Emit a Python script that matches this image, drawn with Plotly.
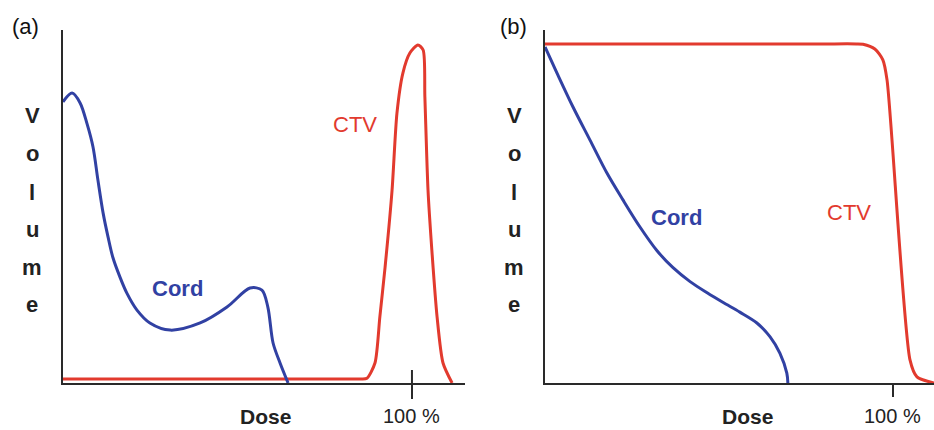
import plotly.graph_objects as go

# ---- data -------------------------------------------------------------
# (a) differential dose-volume histogram
cord_a_dose = [0, 2.6, 4.9, 6.9, 8.6, 10.0, 11.5, 12.9, 14.3, 16.3, 18.3, 21.2, 24.9, 30.7,
               39.3, 47.0, 53.6, 57.0, 58.7, 60.2, 62.2, 64.5]
cord_a_vol = [82.9, 85.5, 82.6, 76.4, 69.6, 59.9, 50.1, 43.1, 37.0, 31.3, 26.5, 21.5, 17.7, 15.6,
              17.7, 22.4, 28.0, 27.4, 22.4, 11.8, 5.9, 0]

ctv_a_dose = [0, 20, 40, 60, 80, 85.5, 87.1, 89.4, 90.8, 92.3, 94.3, 95.7, 97.4, 99.4, 101.7,
              103.2, 103.7, 104.6, 105.7, 107.2, 108.9, 111.5]
ctv_a_vol = [1.2, 1.2, 1.2, 1.2, 1.2, 1.2, 1.4, 5.9, 19.5, 34.2, 56.9, 79.6, 91.4, 97.3, 99.7,
             98.2, 84.4, 56.9, 39.2, 19.5, 5.9, 0]

# (b) cumulative dose-volume histogram
cord_b_dose = [0, 3.45, 8.05, 12.9, 17.8, 22.4, 27.3, 32.2, 36.8, 41.7, 46.6, 51.1, 56.0, 60.9,
               64.7, 67.5, 69.5, 69.8]
cord_b_vol = [99.1, 91.4, 81.4, 71.7, 61.9, 54.0, 46.0, 39.0, 34.0, 29.9, 26.6, 23.8, 20.9, 17.7,
              13.6, 8.8, 2.9, 0]

ctv_b_dose = [0, 20, 40, 60, 80, 89.5, 91.4, 94.8, 97.1, 98.3, 104.9, 106.9, 111.8]
ctv_b_vol = [100, 100, 100, 100, 100, 100, 99.9, 98.5, 95.3, 89.4, 6.8, 1.8, 0]

dose_ticks = [100]
dose_tick_text = ["100 %"]

# ---- styling ----------------------------------------------------------
W, H = 934, 430
BLUE = "#3141a3"
RED = "#e23a2e"
AXIS = "#2a2a2a"
FONT = "Liberation Sans, Arial, sans-serif"


def px_x(p):
    return p / W


def px_y(p):
    return 1 - p / H


fig = go.Figure()

line_kw = dict(mode="lines", line_shape="spline", hoverinfo="skip", showlegend=False)
fig.add_trace(go.Scatter(x=ctv_a_dose, y=ctv_a_vol, line=dict(color=RED, width=3, smoothing=0.7),
                         xaxis="x", yaxis="y", **line_kw))
fig.add_trace(go.Scatter(x=cord_a_dose, y=cord_a_vol, line=dict(color=BLUE, width=3, smoothing=0.9),
                         xaxis="x", yaxis="y", **line_kw))
fig.add_trace(go.Scatter(x=ctv_b_dose, y=ctv_b_vol, line=dict(color=RED, width=3, smoothing=0.7),
                         xaxis="x2", yaxis="y2", **line_kw))
fig.add_trace(go.Scatter(x=cord_b_dose, y=cord_b_vol, line=dict(color=BLUE, width=3, smoothing=0.9),
                         xaxis="x2", yaxis="y2", **line_kw))

x_common = dict(showgrid=False, zeroline=False, showline=True, linecolor=AXIS, linewidth=2,
                ticks="outside", tickcolor=AXIS, tickwidth=2, showticklabels=False,
                tickvals=dose_ticks, fixedrange=True)
y_common = dict(showgrid=False, zeroline=False, showline=True, linecolor=AXIS, linewidth=2,
                showticklabels=False, ticks="", range=[0, 104.1], fixedrange=True)

fig.update_layout(
    width=W, height=H,
    margin=dict(l=0, r=0, t=0, b=0),
    paper_bgcolor="white", plot_bgcolor="white",
    font=dict(family=FONT, color="#222"),
    xaxis=dict(domain=[px_x(63), px_x(465)], range=[0, 115.2], anchor="y", ticklen=14, **x_common),
    yaxis=dict(domain=[px_y(383), px_y(30)], anchor="x", **y_common),
    xaxis2=dict(domain=[px_x(545), 1.0], range=[0, 111.8], anchor="y2", ticklen=12, **x_common),
    yaxis2=dict(domain=[px_y(383), px_y(30)], anchor="x2", **y_common),
)

# inner half of the crossing tick on panel (a)
fig.add_shape(type="line", xref="x", yref="y domain", x0=dose_ticks[0], x1=dose_ticks[0],
              y0=0, y1=13 / 353, line=dict(color=AXIS, width=2))

ann = []
# panel letters
for txt, x0 in (("(a)", 25), ("(b)", 513)):
    ann.append(dict(text=txt, xref="paper", yref="paper", x=px_x(x0), y=px_y(26),
                    showarrow=False, font=dict(size=22, color="#111"),
                    xanchor="center", yanchor="middle"))

# stacked "Volume" letters
letters = list("Volume")
letter_y = [115, 153, 192, 230, 267, 304]
for x0 in (32, 514):
    for ch, yy in zip(letters, letter_y):
        ann.append(dict(text=f"<b>{ch}</b>", xref="paper", yref="paper", x=px_x(x0), y=px_y(yy),
                        showarrow=False, font=dict(size=22, color="#222"),
                        xanchor="center", yanchor="middle"))

# dose axis titles and the 100 % labels
for xa, xcenter in (("x", 265), ("x2", 747)):
    ann.append(dict(text="<b>Dose</b>", xref="paper", yref="paper", x=px_x(xcenter), y=px_y(416),
                    showarrow=False, font=dict(size=21, color="#222"),
                    xanchor="center", yanchor="middle"))
    for v, t in zip(dose_ticks, dose_tick_text):
        ann.append(dict(text=t, xref=xa, yref="paper", x=v, y=px_y(416), showarrow=False,
                        font=dict(size=20, color="#222"), xanchor="center", yanchor="middle"))

# curve labels
ann.append(dict(text="<b>Cord</b>", xref="x", yref="y", x=32.7, y=28.0, showarrow=False,
                font=dict(size=22, color=BLUE), xanchor="center", yanchor="middle"))
ann.append(dict(text="CTV", xref="x", yref="y", x=83.7, y=76.1, showarrow=False,
                font=dict(size=22, color=RED), xanchor="center", yanchor="middle"))
ann.append(dict(text="<b>Cord</b>", xref="x2", yref="y2", x=37.9, y=48.7, showarrow=False,
                font=dict(size=22, color=BLUE), xanchor="center", yanchor="middle"))
ann.append(dict(text="CTV", xref="x2", yref="y2", x=87.4, y=50.4, showarrow=False,
                font=dict(size=22, color=RED), xanchor="center", yanchor="middle"))

fig.update_layout(annotations=ann)
fig.write_html("out.html")
